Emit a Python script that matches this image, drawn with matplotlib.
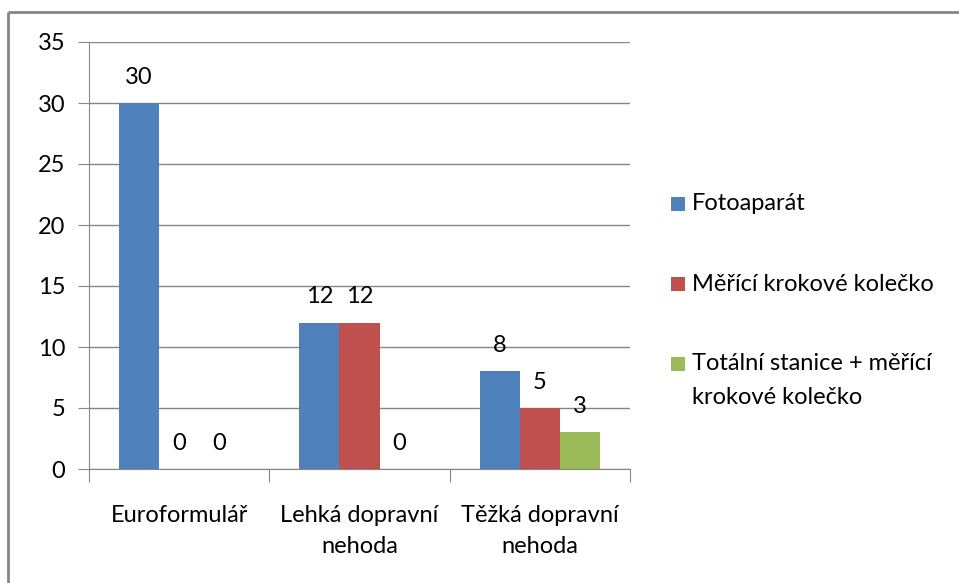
import matplotlib.pyplot as plt
from matplotlib.lines import Line2D
from matplotlib.patches import Rectangle
import numpy as np

plt.rcParams['font.family'] = ['Lato', 'DejaVu Sans']

categories = ["Euroformulář", "Lehká dopravní\nnehoda", "Těžká dopravní\nnehoda"]
series_names = ["Fotoaparát", "Měřící krokové kolečko", "Totální stanice + měřící\nkrokové kolečko"]
fotoaparat = [30, 12, 8]
kolecko = [0, 12, 5]
totalni = [0, 0, 3]
colors = ["#4F81BD", "#C0504D", "#9BBB59"]

W, H = 959, 583
fig = plt.figure(figsize=(W / 100, H / 100), dpi=100)
ax = fig.add_axes([89 / W, 1 - 469 / H, 541 / W, 427 / H])

x = np.arange(len(categories))
width = 0.222
fs = 17
grey = "#868686"

for i, (vals, name, c) in enumerate(zip([fotoaparat, kolecko, totalni], series_names, colors)):
    pos = x + (i - 1) * width
    ax.bar(pos, vals, width, color=c, label=name, zorder=3)
    for p, v in zip(pos, vals):
        ax.text(p, v + 2.1, str(v), ha="center", va="center", fontsize=fs, color="#000000")

ax.set_xlim(-0.5, 2.5)
ax.set_ylim(0, 35)
ax.set_yticks(range(0, 36, 5))
ax.yaxis.grid(True, color=grey, linewidth=1, zorder=0)
ax.tick_params(axis="y", length=8, color=grey, labelsize=fs, pad=9)

ax.set_xticks([-0.5, 0.5, 1.5, 2.5])
ax.set_xticklabels([])
ax.tick_params(axis="x", length=9, color=grey, which="major")
ax.set_xticks(x, minor=True)
ax.set_xticklabels(categories, minor=True, fontsize=fs, linespacing=1.6, va="top")
ax.tick_params(axis="x", which="minor", length=0, pad=26)

for s in ["top", "right"]:
    ax.spines[s].set_visible(False)
for s in ["left", "bottom"]:
    ax.spines[s].set_color(grey)

# legend drawn by hand so the marker lines up with the first text line (Excel style)
legend_y = [204, 284, 364]
line_step = 33
box = 14
for name, c, y in zip(series_names, colors, legend_y):
    fig.add_artist(Rectangle((671 / W, 1 - (y + box / 2) / H), box / W, box / H,
                             transform=fig.transFigure, color=c, linewidth=0))
    for k, line in enumerate(name.split("\n")):
        fig.text(692 / W, 1 - (y + k * line_step) / H, line, ha="left", va="center",
                 fontsize=fs, color="#000000")

# outer chart border
fig.add_artist(Line2D([8 / W, 8 / W], [0, 1 - 12 / H], transform=fig.transFigure,
                      color=grey, linewidth=2, solid_capstyle="butt"))
fig.add_artist(Line2D([8 / W, 1], [1 - 12 / H, 1 - 12 / H], transform=fig.transFigure,
                      color=grey, linewidth=2, solid_capstyle="butt"))

fig.savefig("out.png", dpi=100)
